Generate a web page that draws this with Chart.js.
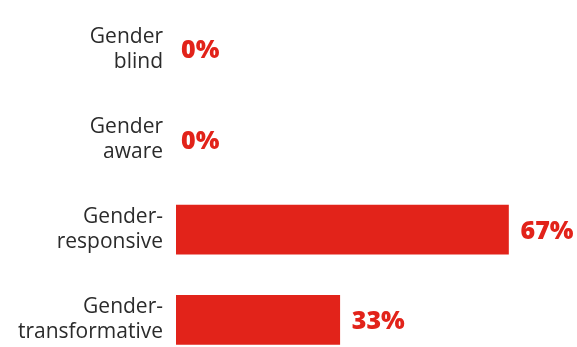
<!DOCTYPE html>
<html>
<head>
<meta charset="utf-8">
<script src="https://cdn.jsdelivr.net/npm/chart.js@4"></script>
<style>
  html, body { margin: 0; padding: 0; background: #ffffff; overflow: hidden; }
  #wrap { position: relative; width: 577px; height: 365px; }
</style>
</head>
<body>
<div id="wrap"><canvas id="c" width="577" height="365"></canvas></div>
<script>
const categories = [
  ['Gender', 'blind'],
  ['Gender', 'aware'],
  ['Gender-', 'responsive'],
  ['Gender-', 'transformative']
];
const shareValues = [0, 0, 67, 33];
const valueLabels = ['0%', '0%', '67%', '33%'];

const RED = '#e2231a';

const valueLabelPlugin = {
  id: 'valueLabels',
  afterDatasetsDraw(chart) {
    const ctx = chart.ctx;
    const meta = chart.getDatasetMeta(0);
    ctx.save();
    ctx.fillStyle = RED;
    ctx.font = '800 25px "Open Sans"';
    ctx.textAlign = 'left';
    ctx.textBaseline = 'middle';
    meta.data.forEach((bar, i) => {
      const x = bar.x + (shareValues[i] > 0 ? 12 : 5);
      ctx.fillText(valueLabels[i], x, bar.y + 2);
    });
    ctx.restore();
  }
};

new Chart(document.getElementById('c'), {
  type: 'bar',
  data: {
    labels: categories,
    datasets: [{
      data: shareValues,
      backgroundColor: (c) => (c.raw > 0 ? RED : 'rgba(0,0,0,0)'),
      borderWidth: 0,
      barThickness: 49
    }]
  },
  options: {
    indexAxis: 'y',
    responsive: false,
    animation: false,
    layout: { padding: { top: 4, right: 4, bottom: 0, left: 0 } },
    plugins: {
      legend: { display: false },
      tooltip: { enabled: false }
    },
    scales: {
      x: {
        display: false,
        min: 0,
        max: 80
      },
      y: {
        grid: { display: false, drawTicks: false },
        border: { display: false },
        ticks: {
          color: '#2b2b2b',
          padding: 13,
          font: { family: '"Open Sans"', size: 21, lineHeight: 1.2 }
        },
        afterFit(scale) {
          scale.width = 176;
          scale.paddingTop = 0;
          scale.paddingBottom = 0;
        }
      }
    }
  },
  plugins: [valueLabelPlugin]
});
</script>
</body>
</html>
